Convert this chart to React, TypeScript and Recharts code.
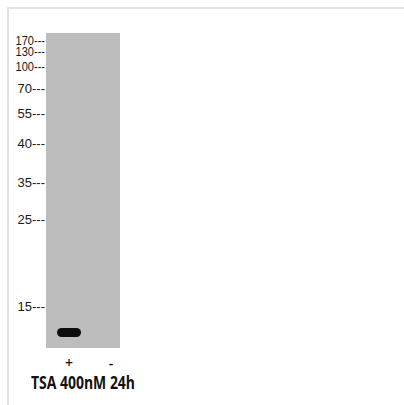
import { ScatterChart, Scatter, XAxis, YAxis, CartesianGrid, Label } from "recharts";

// molecular weight ladder (kDa) and how far each marker ran down the gel
const markerKda = ["170", "130", "100", "70", "55", "40", "35", "25", "15"];
const markerMigration = [8, 19, 33.5, 56, 81, 111, 150, 187, 274];

// lanes
const laneIds = [1, 2];
const laneLabels = ["+", "-"];

// detected bands
const bandLane = [1];
const bandMigration = [299.5];

const treatmentLabel = "TSA 400nM 24h";

const bands = bandLane.map((lane, i) => ({ lane, migration: bandMigration[i] }));

const TICK_FONT = "'Liberation Sans', Arial, sans-serif";
const LABEL_FONT = "'Open Sans', 'DejaVu Sans Condensed', sans-serif";

function MarkerTick({ x, y, payload }: any) {
  const i = markerMigration.indexOf(payload.value);
  const txt = markerKda[i];
  return (
    <text
      x={x} y={y} dy="0.355em" textAnchor="end" fontFamily={TICK_FONT} fontSize={12.5} fill="#1a1a1a"
      textLength={txt.length === 3 ? 29.5 : 27.5} lengthAdjust="spacingAndGlyphs"
    >
      {`${txt}---`}
    </text>
  );
}

function LaneTick({ x, y, payload }: any) {
  const i = laneIds.indexOf(payload.value);
  return (
    <text
      x={x} y={y + 15.5} dy="0.355em" textAnchor="middle" fontFamily={LABEL_FONT}
      fontSize={14} fontWeight={600} fill="#111"
    >
      {laneLabels[i]}
    </text>
  );
}

function BandShape({ cx, cy }: any) {
  return <rect x={cx - 12} y={cy - 4.5} width={24} height={9} rx={4.5} fill="#0d0d0d" />;
}

function TreatmentLabel({ viewBox }: any) {
  const cx = viewBox.x + viewBox.width / 2;
  return (
    <text
      x={cx} y={viewBox.y + viewBox.height - 16} textAnchor="middle" fontFamily={LABEL_FONT}
      fontSize={17} fontWeight={700} fill="#111" textLength={104} lengthAdjust="spacingAndGlyphs"
    >
      {treatmentLabel}
    </text>
  );
}

export default function App() {
  return (
    <div style={{ position: "absolute", left: 0, top: 0, width: 404, height: 405, background: "#fff" }}>
      <div
        style={{
          position: "absolute", left: 7, top: 7, right: 0, bottom: 0,
          borderTop: "2px solid #e4e4e4", borderLeft: "2px solid #e4e4e4",
        }}
      />
      <div style={{ position: "absolute", left: 0, top: 0 }}>
        <ScatterChart width={404} height={405} margin={{ top: 33, right: 284, bottom: 0, left: 0 }}>
          <CartesianGrid horizontal={false} vertical={false} fill="#bdbdbd" stroke="none" />
          <XAxis
            type="number" dataKey="lane" domain={[0.452, 2.214]} ticks={laneIds} interval={0}
            height={57} axisLine={false} tickLine={false} tickSize={0} tickMargin={0}
            tick={<LaneTick />} allowDataOverflow
          >
            <Label content={<TreatmentLabel />} position="insideBottom" />
          </XAxis>
          <YAxis
            type="number" dataKey="migration" domain={[0, 315]} reversed ticks={markerMigration}
            interval={0} width={46} axisLine={false} tickLine={false} tickSize={0} tickMargin={1}
            tick={<MarkerTick />} allowDataOverflow
          />
          <Scatter data={bands} shape={<BandShape />} isAnimationActive={false} />
        </ScatterChart>
      </div>
    </div>
  );
}
